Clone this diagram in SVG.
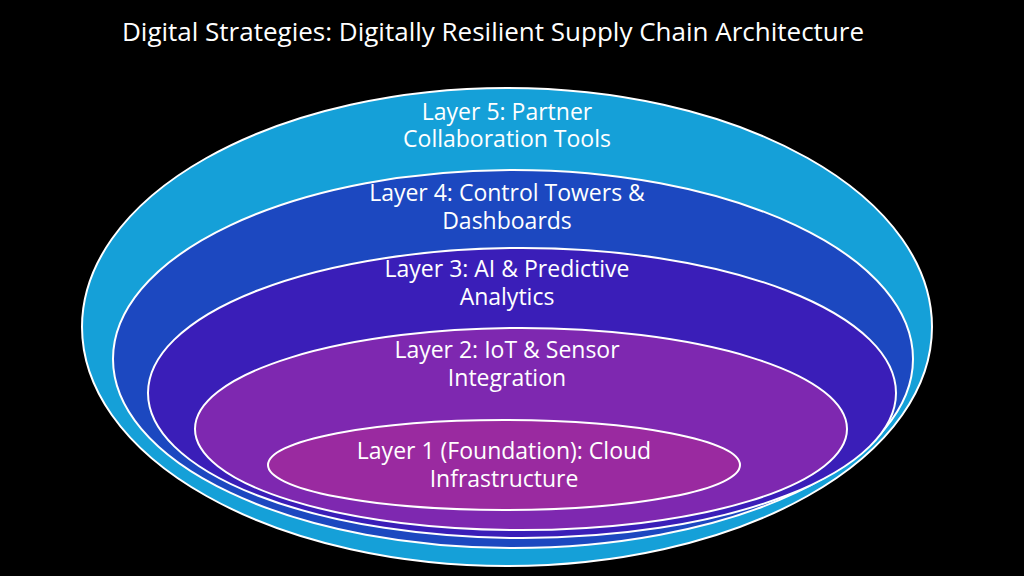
<svg xmlns="http://www.w3.org/2000/svg" width="1024" height="576" viewBox="0 0 1024 576">
<style>
.l{stroke:#fff;stroke-width:2}
.t{font-family:"Open Sans","Liberation Sans",sans-serif;font-size:23px;fill:#fff;text-anchor:middle}
</style>
<rect width="1024" height="576" fill="#000"/>
<text x="493" y="41" style="font-family:'Open Sans','Liberation Sans',sans-serif;font-size:26px;fill:#fff;text-anchor:middle">Digital Strategies: Digitally Resilient Supply Chain Architecture</text>
<g id="layer5"><ellipse class="l" cx="507" cy="327" rx="425" ry="239" fill="#15a0d8"/><text class="t" x="507" y="120">Layer 5: Partner</text><text class="t" x="507" y="147">Collaboration Tools</text></g>
<g id="layer4"><ellipse class="l" cx="513" cy="359" rx="400" ry="189" fill="#1c48c0"/><text class="t" x="507" y="201">Layer 4: Control Towers &amp;</text><text class="t" x="507" y="229">Dashboards</text></g>
<g id="layer3"><ellipse class="l" cx="522" cy="393" rx="374" ry="145" fill="#3a1eb8"/><text class="t" x="507" y="277">Layer 3: AI &amp; Predictive</text><text class="t" x="507" y="305">Analytics</text></g>
<g id="layer2"><ellipse class="l" cx="521" cy="429" rx="326" ry="101" fill="#7e28b0"/><text class="t" x="507" y="358">Layer 2: IoT &amp; Sensor</text><text class="t" x="507" y="386">Integration</text></g>
<g id="layer1"><ellipse class="l" cx="504" cy="465" rx="236" ry="45" fill="#9a2aa0"/><text class="t" x="504" y="459">Layer 1 (Foundation): Cloud</text><text class="t" x="504" y="487">Infrastructure</text></g>
<g id="connectors"/>
</svg>
